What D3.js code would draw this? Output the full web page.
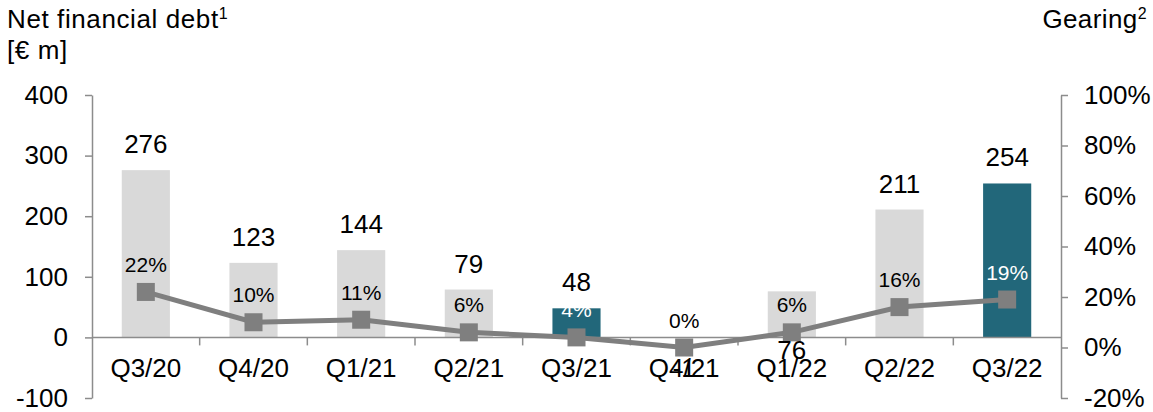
<!DOCTYPE html>
<html><head><meta charset="utf-8">
<script src="https://cdn.jsdelivr.net/npm/d3@7"></script>
<style>body{margin:0;background:#fff}svg{display:block}text{font-family:"Liberation Sans",Arial,sans-serif}</style>
</head><body>
<svg id="c" width="1153" height="412"></svg>
<script>
const categories = ["Q3/20","Q4/20","Q1/21","Q2/21","Q3/21","Q4/21","Q1/22","Q2/22","Q3/22"];
const netDebt = [276,123,144,79,48,-1,76,211,254];
const gearing = [22,10,11,6,4,0,6,16,19];
const highlighted = ["Q3/21","Q3/22"];
const leftTicks = [400,300,200,100,0,-100];
const rightTicks = [100,80,60,40,20,0,-20];

const svg = d3.select("#c");
const x0 = 92, x1 = 1061, yTop = 95, yBot = 398;
const x = d3.scaleBand().domain(categories).range([x0, x1]).paddingInner(0.553).paddingOuter(0.2765);
const yL = d3.scaleLinear().domain([-100,400]).range([yBot, yTop]);
const yR = d3.scaleLinear().domain([-20,100]).range([yBot, yTop]);
const axisCol = "#8c8c8c", grey = "#d9d9d9", teal = "#22677a", lineCol = "#7f7f7f";
const fs = 26, fsP = 21;
const ff = "Liberation Sans, Arial, sans-serif";

// bars
svg.append("g").selectAll("rect").data(categories).join("rect")
  .attr("x", d => x(d))
  .attr("width", x.bandwidth())
  .attr("y", (d,i) => Math.min(yL(netDebt[i]), yL(0)))
  .attr("height", (d,i) => Math.abs(yL(netDebt[i]) - yL(0)))
  .attr("fill", d => highlighted.includes(d) ? teal : grey);

// left axis
const gL = svg.append("g").attr("transform", `translate(${x0},0)`)
  .call(d3.axisLeft(yL).tickValues(leftTicks).tickSize(7).tickSizeOuter(0).tickPadding(17).tickFormat(d => String(d)));
gL.select(".domain").attr("stroke", axisCol).attr("stroke-width", 1.5);
gL.selectAll(".tick line").attr("stroke", axisCol).attr("stroke-width", 1.5);
gL.selectAll("text").attr("font-size", fs).attr("fill", "#000").attr("font-family", ff);

// right axis
const gR = svg.append("g").attr("transform", `translate(${x1},0)`)
  .call(d3.axisRight(yR).tickValues(rightTicks).tickSize(7).tickSizeOuter(0).tickPadding(16).tickFormat(d => String(d) + "%"));
gR.select(".domain").attr("stroke", axisCol).attr("stroke-width", 1.5);
gR.selectAll(".tick line").attr("stroke", axisCol).attr("stroke-width", 1.5);
gR.selectAll("text").attr("font-size", fs).attr("fill", "#000").attr("font-family", ff);

// category axis at zero
const y0 = yL(0);
svg.append("line").attr("x1", x0).attr("x2", x1).attr("y1", y0).attr("y2", y0)
  .attr("stroke", axisCol).attr("stroke-width", 1.5);
const step = x.step();
svg.append("g").selectAll("line").data(categories.slice(1)).join("line")
  .attr("x1", d => x(d) - (step - x.bandwidth())/2).attr("x2", d => x(d) - (step - x.bandwidth())/2)
  .attr("y1", y0).attr("y2", y0 + 8).attr("stroke", axisCol).attr("stroke-width", 1.5);
svg.append("g").selectAll("text").data(categories).join("text")
  .attr("x", d => x(d) + x.bandwidth()/2).attr("y", y0 + 40)
  .attr("text-anchor", "middle").attr("font-size", fs).text(d => d);

// gearing line
const cx = d => x(d) + x.bandwidth()/2;
const line = d3.line().x((d,i) => cx(categories[i])).y(d => yR(d));
svg.append("path").datum(gearing).attr("d", line).attr("fill", "none")
  .attr("stroke", lineCol).attr("stroke-width", 5);
const sq = 18;
svg.append("g").selectAll("rect").data(gearing).join("rect")
  .attr("x", (d,i) => cx(categories[i]) - sq/2).attr("y", d => yR(d) - sq/2)
  .attr("width", sq).attr("height", sq).attr("fill", lineCol);

// value labels
svg.append("g").selectAll("text").data(netDebt).join("text")
  .attr("x", (d,i) => cx(categories[i]))
  .attr("y", (d,i) => d < 0 ? y0 + 40 : (categories[i] === "Q1/22" ? y0 + 22 : yL(d) - 17))
  .attr("text-anchor", "middle").attr("font-size", fs).attr("fill", "#000").text(d => String(d));

// gearing labels
svg.append("g").selectAll("text").data(gearing).join("text")
  .attr("x", (d,i) => cx(categories[i]))
  .attr("y", d => yR(d) - 20)
  .attr("text-anchor", "middle").attr("font-size", fsP)
  .attr("fill", (d,i) => highlighted.includes(categories[i]) ? "#fff" : "#000")
  .text(d => d + "%");

// titles
const t1 = svg.append("text").attr("x", 7).attr("y", 28).attr("font-size", fs).attr("letter-spacing", 0.6);
t1.append("tspan").text("Net financial debt");
t1.append("tspan").attr("font-size", 16).attr("dy", -9).text("1");
svg.append("text").attr("x", 7).attr("y", 59).attr("font-size", fs).attr("letter-spacing", 0.6).text("[€ m]");
const t2 = svg.append("text").attr("x", 1147).attr("y", 28).attr("font-size", fs).attr("text-anchor", "end").attr("letter-spacing", 0.4);
t2.append("tspan").text("Gearing");
t2.append("tspan").attr("font-size", 16).attr("dy", -9).text("2");
</script>
</body></html>
